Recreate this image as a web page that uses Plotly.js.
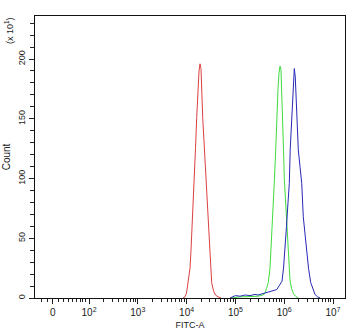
<!DOCTYPE html>
<html>
<head>
<meta charset="utf-8">
<script src="https://cdn.plot.ly/plotly-3.0.1.min.js"></script>
<style>html,body{margin:0;padding:0;background:#fff;}#chart{width:350px;height:331px;}</style>
</head>
<body>
<div id="chart"></div>
<script>
// log10(FITC-A) values and counts (x 10^1)
const redLog = [3.926,3.967,3.998,4.035,4.070,4.090,4.121,4.152,4.182,4.207,4.234,4.254,4.275,4.295,4.330,4.367,4.398,4.428,4.465,4.490,4.514,4.551,4.592,4.643,4.705];
const redCount = [0,1,4,13,25,40,65,96,125,151,175,190,196,192,151,122,96,68,40,24,12.7,6,2.5,1,0];

const greenLog = [4.930,5.094,5.299,5.463,5.566,5.607,5.637,5.674,5.709,5.730,5.760,5.781,5.801,5.826,5.846,5.873,5.893,5.914,5.934,5.969,5.986,6.002,6.027,6.047,6.068,6.088,6.119,6.150,6.186,6.232,6.283];
const greenCount = [0,1,1.2,1.5,2.5,4,8,13,25,40,60,80,100,124,151,175,188,194,191,155,124,100,80,62,45,32,15,8,4,1.5,0];

const blueLog = [4.889,4.951,5.000,5.094,5.200,5.299,5.400,5.463,5.550,5.607,5.709,5.791,5.846,5.893,5.955,5.986,6.016,6.047,6.078,6.105,6.123,6.154,6.180,6.207,6.227,6.268,6.289,6.324,6.359,6.391,6.426,6.461,6.498,6.543,6.590,6.631,6.682,6.734];
const blueCount = [0,1,2,1.5,2.5,2,3,2.5,3.5,4,5,6,7,10,14,25,40,60,80,96,124,151,178,192,185,151,124,110,96,68,52,40,25,13,7,3,1,0];

const xTickVals = [18, 1e2, 1e3, 1e4, 1e5, 1e6, 1e7];
const xTickText = ['0','10<sup>2</sup>','10<sup>3</sup>','10<sup>4</sup>','10<sup>5</sup>','10<sup>6</sup>','10<sup>7</sup>'];
const yTickVals = [0, 50, 100, 150, 200];
const yTickText = ['0','50','100','150','200'];

const toLin = a => a.map(v => Math.pow(10, v));

// minor ticks on x axis
const minorX = [];
[1.031,1.145,1.371,1.473,1.576,1.666,1.748,1.816,1.871,1.924].forEach(u => minorX.push(Math.pow(10,u)));
for (let d = 2; d <= 6; d++) for (let k = 2; k <= 9; k++) minorX.push(k * Math.pow(10, d));

const traces = [
  {x: toLin(redLog), y: redCount, mode: 'lines', line: {color: '#dc4040', width: 1}, hoverinfo: 'skip'},
  {x: toLin(greenLog), y: greenCount, mode: 'lines', line: {color: '#3ddc3d', width: 1}, hoverinfo: 'skip'},
  {x: toLin(blueLog), y: blueCount, mode: 'lines', line: {color: '#2828b8', width: 1}, hoverinfo: 'skip'}
];

const layout = {
  width: 350, height: 331,
  margin: {l: 35, r: 5, t: 16, b: 33},
  paper_bgcolor: '#fff', plot_bgcolor: '#fff',
  showlegend: false,
  font: {family: 'Liberation Sans, Arial, sans-serif', size: 9, color: '#222'},
  xaxis: {
    type: 'log', range: [0.893, 7.246],
    tickmode: 'array', tickvals: xTickVals, ticktext: xTickText,
    ticks: 'outside', ticklen: 5, tickcolor: '#222', tickwidth: 1,
    minor: {tickmode: 'array', tickvals: minorX, ticks: 'outside', ticklen: 3, tickcolor: '#222', showgrid: false},
    showgrid: false, zeroline: false,
    showline: true, mirror: true, linecolor: '#111', linewidth: 1,
    tickfont: {size: 10},
    title: {text: 'FITC-A', font: {size: 9}, standoff: 4}
  },
  yaxis: {
    range: [0, 236],
    tickmode: 'array', tickvals: yTickVals, ticktext: yTickText,
    tickangle: -90,
    ticks: 'outside', ticklen: 5, tickcolor: '#222',
    minor: {dtick: 10, tick0: 0, ticks: 'outside', ticklen: 4, tickcolor: '#222', showgrid: false},
    showgrid: false, zeroline: false,
    showline: true, mirror: true, linecolor: '#111', linewidth: 1,
    tickfont: {size: 9},
    title: {text: 'Count', font: {size: 10}, standoff: 4}
  },
  annotations: [{
    text: '(x 10<sup>1</sup>)', xref: 'paper', yref: 'paper',
    x: -0.084, y: 0.95, xanchor: 'center', yanchor: 'middle',
    textangle: -90, showarrow: false, font: {size: 9, color: '#222'}
  }]
};

Plotly.newPlot('chart', traces, layout, {displayModeBar: false, staticPlot: true});
</script>
</body>
</html>
